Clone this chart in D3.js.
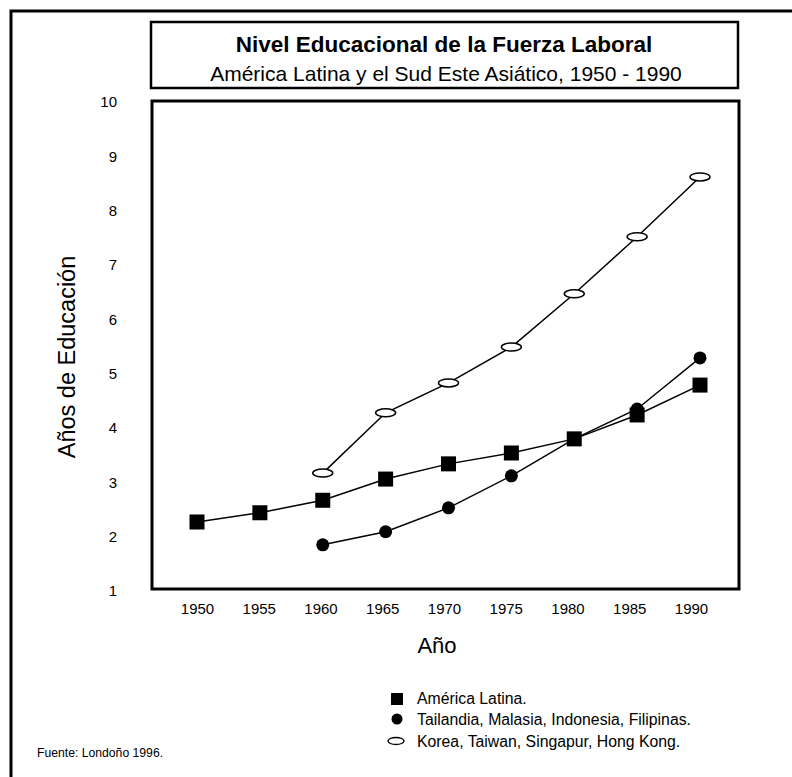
<!DOCTYPE html>
<html><head><meta charset="utf-8">
<script src="https://cdn.jsdelivr.net/npm/d3@7"></script>
<style>
html,body{margin:0;padding:0;background:#fff;}
svg{display:block;font-family:"Liberation Sans",Arial,sans-serif;}
</style></head>
<body>
<svg id="chart" width="792" height="777"></svg>
<script>
// ---- data ----
const years = [1950, 1955, 1960, 1965, 1970, 1975, 1980, 1985, 1990];
const latamYears = [1950, 1955, 1960, 1965, 1970, 1975, 1980, 1985, 1990];
const latamValues = [2.27, 2.44, 2.67, 3.06, 3.34, 3.54, 3.80, 4.24, 4.79];
const seAsiaYears = [1960, 1965, 1970, 1975, 1980, 1985, 1990];
const seAsiaValues = [1.85, 2.09, 2.53, 3.12, 3.80, 4.35, 5.29];
const tigersYears = [1960, 1965, 1970, 1975, 1980, 1985, 1990];
const tigersValues = [3.17, 4.28, 4.83, 5.49, 6.47, 7.52, 8.62];
const yTicks = [1, 2, 3, 4, 5, 6, 7, 8, 9, 10];
const legendLabels = ["América Latina.", "Tailandia, Malasia, Indonesia, Filipinas.", "Korea, Taiwan, Singapur, Hong Kong."];
const titleText = "Nivel Educacional de la Fuerza Laboral";
const subtitleText = "América Latina y el Sud Este Asiático, 1950 - 1990";
const xTitle = "Año";
const yTitle = "Años de Educación";
const sourceText = "Fuente: Londoño 1996.";

const svg = d3.select("#chart");

// outer frame (cropped at right/bottom)
svg.append("rect").attr("x", 11).attr("y", 11).attr("width", 820).attr("height", 820)
  .attr("fill", "none").attr("stroke", "#000").attr("stroke-width", 3);

// title box
svg.append("rect").attr("x", 151).attr("y", 22).attr("width", 587).attr("height", 66)
  .attr("fill", "#fff").attr("stroke", "#000").attr("stroke-width", 2.5);
svg.append("text").attr("x", 444).attr("y", 52).attr("text-anchor", "middle")
  .attr("font-weight", "bold").attr("font-size", 22.5).text(titleText);
svg.append("text").attr("x", 446).attr("y", 81).attr("text-anchor", "middle")
  .attr("font-size", 21).text(subtitleText);

// scales
const x = d3.scaleLinear().domain([1950, 1990]).range([197, 700]);
const xAxisScale = d3.scaleLinear().domain([1950, 1990]).range([197, 691]);
const y = d3.scaleLinear().domain([1, 10]).range([591, 102]);

// plot box
svg.append("rect").attr("x", 152).attr("y", 101).attr("width", 587).attr("height", 488)
  .attr("fill", "none").attr("stroke", "#000").attr("stroke-width", 3);

// y axis labels
const yAxis = d3.axisLeft(y).tickValues(yTicks).tickSize(0).tickPadding(0).tickFormat(d3.format("d"));
const gy = svg.append("g").attr("transform", "translate(117,0)").call(yAxis);
gy.select(".domain").remove();
gy.selectAll("text").attr("font-size", 15).attr("font-family", "Liberation Sans, Arial, sans-serif").attr("fill", "#000");

// x axis labels
const xAxis = d3.axisBottom(xAxisScale).tickValues(years).tickSize(0).tickPadding(0).tickFormat(d3.format("d"));
const gx = svg.append("g").attr("transform", "translate(0,603)").call(xAxis);
gx.select(".domain").remove();
gx.selectAll("text").attr("font-size", 15).attr("font-family", "Liberation Sans, Arial, sans-serif").attr("fill", "#000");

// axis titles
svg.append("text").attr("x", 437).attr("y", 653).attr("text-anchor", "middle")
  .attr("font-size", 22).text(xTitle);
svg.append("text").attr("transform", "translate(75,357) rotate(-90)").attr("text-anchor", "middle")
  .attr("font-size", 23.5).text(yTitle);

const line = d3.line().x(d => x(d[0])).y(d => y(d[1]));
const latam = latamYears.map((yr, i) => [yr, latamValues[i]]);
const seAsia = seAsiaYears.map((yr, i) => [yr, seAsiaValues[i]]);
const tigers = tigersYears.map((yr, i) => [yr, tigersValues[i]]);

[tigers, seAsia, latam].forEach(s => {
  svg.append("path").datum(s).attr("d", line).attr("fill", "none")
    .attr("stroke", "#000").attr("stroke-width", 1.5);
});

// markers
svg.selectAll(".tig").data(tigers).enter().append("ellipse")
  .attr("cx", d => x(d[0])).attr("cy", d => y(d[1])).attr("rx", 10).attr("ry", 4)
  .attr("fill", "#fff").attr("stroke", "#000").attr("stroke-width", 1.5);
svg.selectAll(".sea").data(seAsia).enter().append("circle")
  .attr("cx", d => x(d[0])).attr("cy", d => y(d[1])).attr("r", 6.5).attr("fill", "#000");
svg.selectAll(".lat").data(latam).enter().append("rect")
  .attr("x", d => x(d[0]) - 7.5).attr("y", d => y(d[1]) - 7.5).attr("width", 15).attr("height", 15).attr("fill", "#000");

// legend
const lg = svg.append("g");
lg.append("rect").attr("x", 391).attr("y", 693).attr("width", 12).attr("height", 12).attr("fill", "#000");
lg.append("circle").attr("cx", 397).attr("cy", 719).attr("r", 5.5).attr("fill", "#000");
lg.append("ellipse").attr("cx", 396).attr("cy", 741).attr("rx", 8).attr("ry", 3.5)
  .attr("fill", "#fff").attr("stroke", "#000").attr("stroke-width", 1.3);
[704, 725, 747].forEach((yy, i) => {
  lg.append("text").attr("x", 417).attr("y", yy).attr("font-size", 15.8).text(legendLabels[i]);
});

// source
svg.append("text").attr("x", 37).attr("y", 757).attr("font-size", 12.2).text(sourceText);
</script>
</body></html>
